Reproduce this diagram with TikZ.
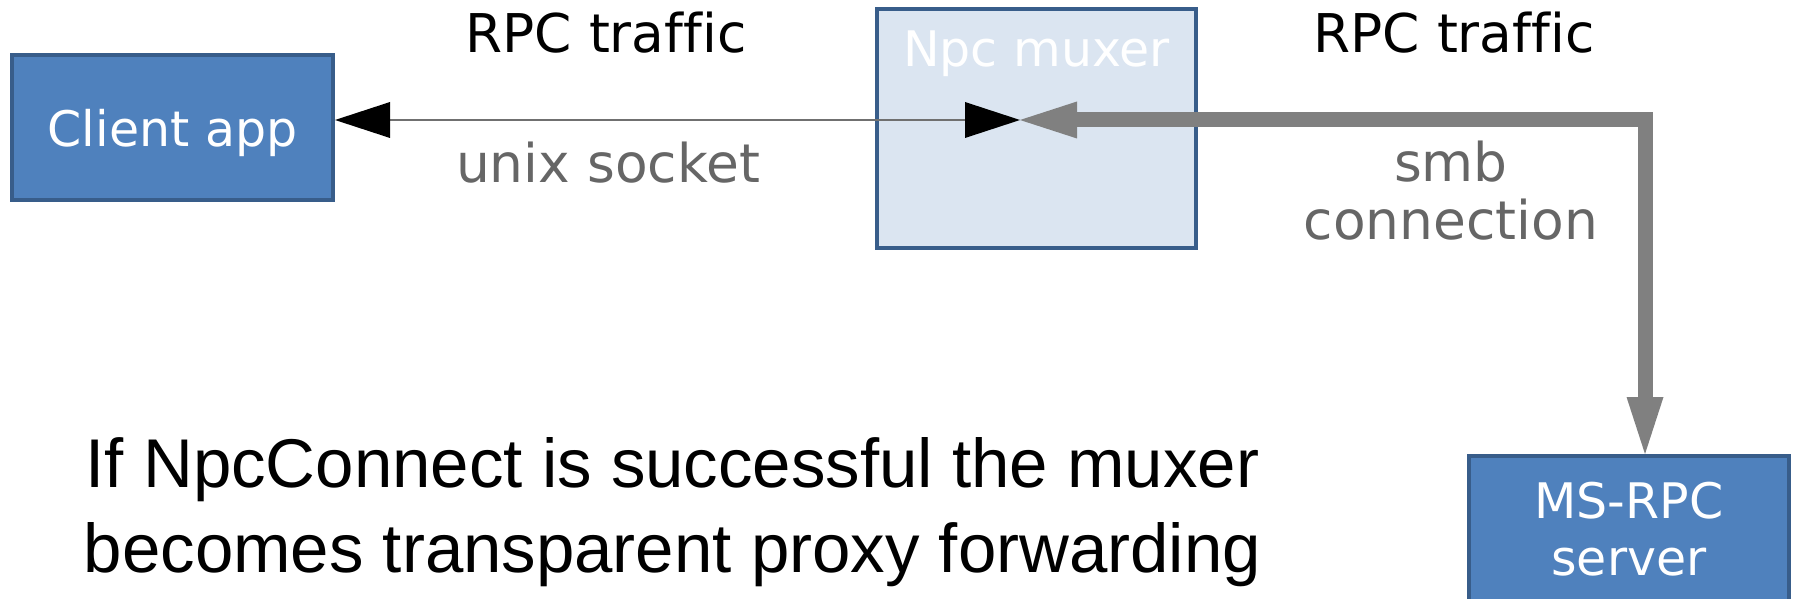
\documentclass[tikz,border=0pt]{standalone}
\usepackage{fontspec}
\setmainfont{DejaVu Sans}[Ligatures=NoCommon]
\newfontfamily\arialfont{Liberation Sans}[Ligatures=NoCommon]
\usetikzlibrary{arrows.meta}
\definecolor{boxblue}{HTML}{4F81BD}
\definecolor{boxedge}{HTML}{385D8A}
\definecolor{muxfill}{HTML}{DBE5F1}
\definecolor{labelgray}{HTML}{666666}
\definecolor{pipegray}{HTML}{808080}
\definecolor{thingray}{HTML}{707070}
\begin{document}
\begin{tikzpicture}[x=0.5pt,y=-0.5pt,
  box/.style={draw=boxedge, line width=2pt, inner sep=0pt},
  boxfont/.style={font=\fontsize{24.5pt}{28.5pt}\selectfont},
  bluebox/.style={box, fill=boxblue, text=white, boxfont, align=center},
  lbl/.style={font=\fontsize{26.7pt}{29pt}\selectfont, inner sep=0pt, align=center},
  blacktip/.tip={Triangle[length=27.5pt,width=18pt,color=black,fill=black,line width=0pt]},
  graytip/.tip={Triangle[length=28.5pt,width=18.5pt,line width=0pt]},
  thinlink/.style={draw=thingray, line width=0.8pt, blacktip-blacktip},
  pipe/.style={draw=pipegray, line width=7.5pt, line join=miter, graytip-graytip}
]
\useasboundingbox (0,0) rectangle (1793,599);
\clip (0,0) rectangle (1793,599);

% boxes
\node[bluebox, minimum width=160.5pt, minimum height=72.5pt, text depth=0pt] (client) at (172.5,127.5) {Client app};
\node[box, fill=muxfill, minimum width=159.5pt, minimum height=119.5pt] (muxer) at (1036.5,128.5) {};
\node[boxfont, anchor=base, text=white, inner sep=0pt] (muxlbl) at (1036.5,67) {Npc muxer};
\node[bluebox, minimum width=160pt, minimum height=73pt] (server) at (1629,529) {MS-RPC\\server};

% labels
\node[lbl, anchor=base] (rpc1) at (606,53) {RPC traf\kern0pt f\kern0pt ic};
\node[lbl, anchor=base] (rpc2) at (1454,53) {RPC traf\kern0pt f\kern0pt ic};
\node[lbl, anchor=base, text=labelgray] (unix) at (608,183) {unix socket};
\node[lbl, text=labelgray] (smb) at (1451,191) {smb\\connection};
\node[font=\arialfont\fontsize{34.5pt}{42.5pt}\selectfont, align=center, inner sep=0pt] (note) at (672.5,512) {If NpcConnect is successful the muxer\\becomes transparent proxy forwarding};

% connectors
\coordinate (hub) at (1020,120);
\coordinate (corner) at (1645,120);
\draw[thinlink] (client.east |- hub) -- (hub);
\draw[pipe] (hub) -- (corner) -- (corner |- server.north);
\end{tikzpicture}
\end{document}
